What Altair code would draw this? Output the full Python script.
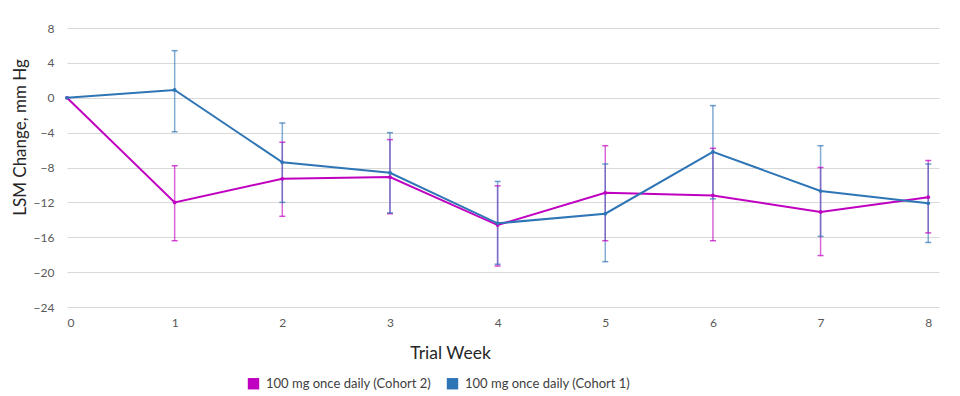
import altair as alt
import pandas as pd

weeks = [0, 1, 2, 3, 4, 5, 6, 7, 8]
series_names = ["100 mg once daily (Cohort 2)", "100 mg once daily (Cohort 1)"]

c2_mean = [0, -12.0, -9.3, -9.1, -14.6, -10.9, -11.2, -13.1, -11.4]
c2_hi = [None, -7.8, -5.1, -4.8, -10.1, -5.5, -5.8, -8.0, -7.2]
c2_lo = [None, -16.4, -13.6, -13.3, -19.3, -16.4, -16.4, -18.1, -15.5]

c1_mean = [0, 0.9, -7.4, -8.6, -14.4, -13.3, -6.2, -10.7, -12.1]
c1_hi = [None, 5.4, -2.9, -4.0, -9.6, -7.6, -0.9, -5.5, -7.6]
c1_lo = [None, -3.9, -12.0, -13.2, -19.1, -18.8, -11.6, -15.9, -16.6]

y_ticks = [8, 4, 0, -4, -8, -12, -16, -20, -24]

rows = []
for name, m, hi, lo in [(series_names[0], c2_mean, c2_hi, c2_lo),
                        (series_names[1], c1_mean, c1_hi, c1_lo)]:
    for w, mv, h, l in zip(weeks, m, hi, lo):
        rows.append({"week": w, "series": name, "mean": mv, "hi": h, "lo": l})
df = pd.DataFrame(rows)
err_df = df.dropna()

FONT = "Lato"
colors = ["#C000C0", "#2E75B6"]
color_scale = alt.Scale(domain=series_names, range=colors)

x_axis = alt.Axis(values=weeks, format="d", title="Trial Week", grid=False, domain=False,
                  ticks=False, labelPadding=10, titlePadding=16, titleX=383,
                  labelColor="#595959", labelFontSize=12,
                  titleColor="#262626", titleFontSize=17.5, titleFontWeight="normal")
y_axis = alt.Axis(values=y_ticks, format="d", title="LSM Change, mm Hg", domain=False,
                  ticks=False, gridColor="#D9D9D9", gridWidth=1, labelPadding=13,
                  labelColor="#595959", labelFontSize=12,
                  titleColor="#262626", titleFontSize=17, titleFontWeight="normal",
                  titlePadding=4, titleY=109)
x_scale = alt.Scale(domain=[0, 8.1], nice=False)
y_scale = alt.Scale(domain=[-24, 8], nice=False)

legend = alt.Legend(title=None, orient="none", legendX=180, legendY=349,
                    direction="horizontal", symbolType="square",
                    symbolSize=130, symbolStrokeWidth=0,
                    labelFontSize=13, labelColor="#404040", labelLimit=400,
                    labelFont=FONT, columnPadding=14, labelOffset=6,
                    symbolOpacity=1)


def X(field):
    return alt.X(field, scale=x_scale, axis=x_axis)


def Y(field):
    return alt.Y(field, scale=y_scale, axis=y_axis, title="LSM Change, mm Hg")


color = alt.Color("series:N", scale=color_scale, legend=legend)

lines = alt.Chart(df).mark_line(strokeWidth=2).encode(
    x=X("week:Q"), y=Y("mean:Q"), color=color, order="week:Q")

err_rule = alt.Chart(err_df).mark_rule(strokeWidth=1.5, opacity=0.6).encode(
    x=X("week:Q"), y=Y("hi:Q"), y2="lo:Q", color=color)
err_cap_hi = alt.Chart(err_df).mark_tick(orient="horizontal", size=6, thickness=1.5,
                                         opacity=0.7).encode(
    x=X("week:Q"), y=Y("hi:Q"), color=color)
err_cap_lo = alt.Chart(err_df).mark_tick(orient="horizontal", size=6, thickness=1.5,
                                         opacity=0.7).encode(
    x=X("week:Q"), y=Y("lo:Q"), color=color)

points = alt.Chart(df).mark_point(filled=True, size=14, opacity=1, shape="circle").encode(
    x=X("week:Q"), y=Y("mean:Q"), color=color)

chart = alt.layer(lines, err_rule, err_cap_hi, err_cap_lo, points).properties(
    width=872, height=279,
    autosize=alt.AutoSizeParams(type="none"),
    padding={"left": 59, "top": 20, "right": 13, "bottom": 88},
    background="white",
).configure(font=FONT).configure_view(stroke="transparent", strokeWidth=0)

chart.save("out.html", embed_options={"renderer": "svg", "actions": False})
